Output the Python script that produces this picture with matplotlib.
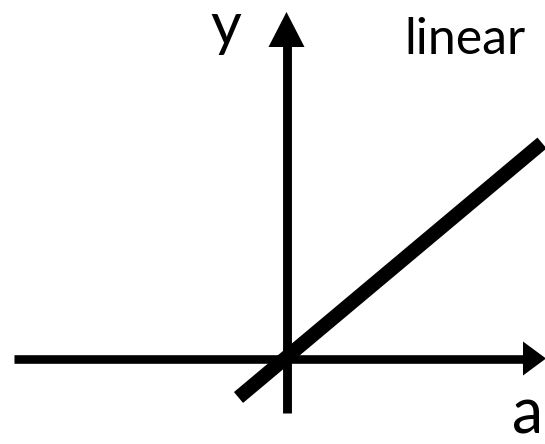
import matplotlib
matplotlib.use("Agg")
import matplotlib.pyplot as plt

# everything in pixel coordinates of the 545x444 picture
W, H = 545, 444

# axes (shafts)
x_axis_x = [14, 524]
x_axis_y = [358.5, 358.5]
y_axis_x = [286.5, 286.5]
y_axis_y = [413, 46]

# arrow heads (three corners each)
x_head = [[523, 341.5], [546, 358.5], [523, 375.5]]
y_head = [[268.5, 47], [286.5, 12], [304.5, 47]]

# the thick "linear" line
line_x = [238.5, 542]
line_y = [397.5, 143]

labels = ["y", "linear", "a"]
label_x = [210, 404, 512]
label_y = [45, 54, 433]
label_size = [43, 36, 45]

fig = plt.figure(figsize=(W / 100, H / 100), dpi=100)
ax = fig.add_axes([0, 0, 1, 1])
ax.set_xlim(0, W)
ax.set_ylim(H, 0)
ax.axis("off")

ax.plot(x_axis_x, x_axis_y, color="black", lw=6.2, solid_capstyle="butt")
ax.plot(y_axis_x, y_axis_y, color="black", lw=6.4, solid_capstyle="butt")
ax.fill([p[0] for p in x_head], [p[1] for p in x_head], color="black", lw=0)
ax.fill([p[0] for p in y_head], [p[1] for p in y_head], color="black", lw=0)
ax.plot(line_x, line_y, color="black", lw=10.2, solid_capstyle="butt")

for t, x, y, s in zip(labels, label_x, label_y, label_size):
    ax.text(x, y, t, fontsize=s, family="Lato", ha="left", va="baseline")

fig.savefig("out.png", dpi=100)
